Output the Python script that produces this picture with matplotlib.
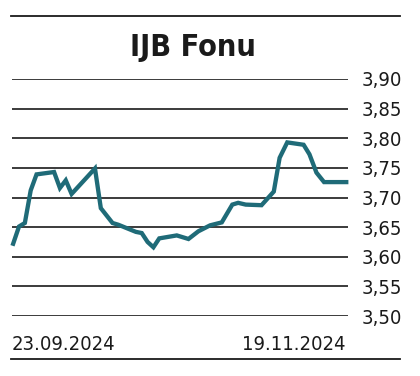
import matplotlib.pyplot as plt
from matplotlib.lines import Line2D

# days since 23.09.2024 and fund price
days = [0, 1, 2, 3, 4, 7, 8, 9, 10, 14, 15, 17, 18, 21, 22, 23, 24, 25, 28, 30,
        31.7, 33.7, 35.7, 37.5, 38.5, 39.8, 42.5, 44.6, 45.6, 46.9, 49.7, 50.7,
        51.9, 53.2, 57]
price = [3.622, 3.651, 3.657, 3.712, 3.739, 3.743, 3.716, 3.729, 3.706, 3.749,
         3.682, 3.657, 3.654, 3.642, 3.640, 3.625, 3.616, 3.631, 3.636, 3.630,
         3.643, 3.653, 3.658, 3.688, 3.691, 3.688, 3.687, 3.710, 3.767, 3.793,
         3.789, 3.773, 3.742, 3.726, 3.726]
yticks = [3.50, 3.55, 3.60, 3.65, 3.70, 3.75, 3.80, 3.85, 3.90]
start_label = "23.09.2024"
end_label = "19.11.2024"
title = "IJB Fonu"

W, H = 420, 376
fig = plt.figure(figsize=(W / 100, H / 100), dpi=100)
font = ['DejaVu Sans']
ink = '#1a1a1a'

ax = fig.add_axes([12 / W, 1 - 316 / H, (348 - 12) / W, (316 - 79) / H])
ax.plot(days, price, color='#1f6b78', lw=3.1, solid_joinstyle='miter',
        clip_on=False, zorder=3)
ax.set_xlim(-0.2, 57.3)
ax.set_ylim(3.50, 3.90)
ax.set_yticks(yticks)
ax.set_yticklabels([f"{v:.2f}".replace('.', ',') for v in yticks],
                   family=font, stretch='condensed', fontsize=14.5, color=ink)
ax.yaxis.tick_right()
ax.tick_params(axis='y', length=0, pad=10)
ax.set_xticks([])
for s in ax.spines.values():
    s.set_visible(False)
ax.grid(axis='y', color=ink, lw=1.2)
ax.set_axisbelow(True)

fig.text(193 / W, 1 - 47 / H, title, ha='center', va='center', family=font,
         stretch='condensed', fontsize=22, fontweight='bold', color=ink)
fig.text(12 / W, 1 - 344 / H, start_label, ha='left', va='center', family=font,
         stretch='condensed', fontsize=14.5, color=ink)
fig.text(346 / W, 1 - 344 / H, end_label, ha='right', va='center', family=font,
         stretch='condensed', fontsize=14.5, color=ink)

# rules above and below the chart
for y in (16, 359):
    fig.add_artist(Line2D([11 / W, 400 / W], [1 - y / H, 1 - y / H],
                          color=ink, lw=1.3))

fig.savefig('out.png', dpi=100)
